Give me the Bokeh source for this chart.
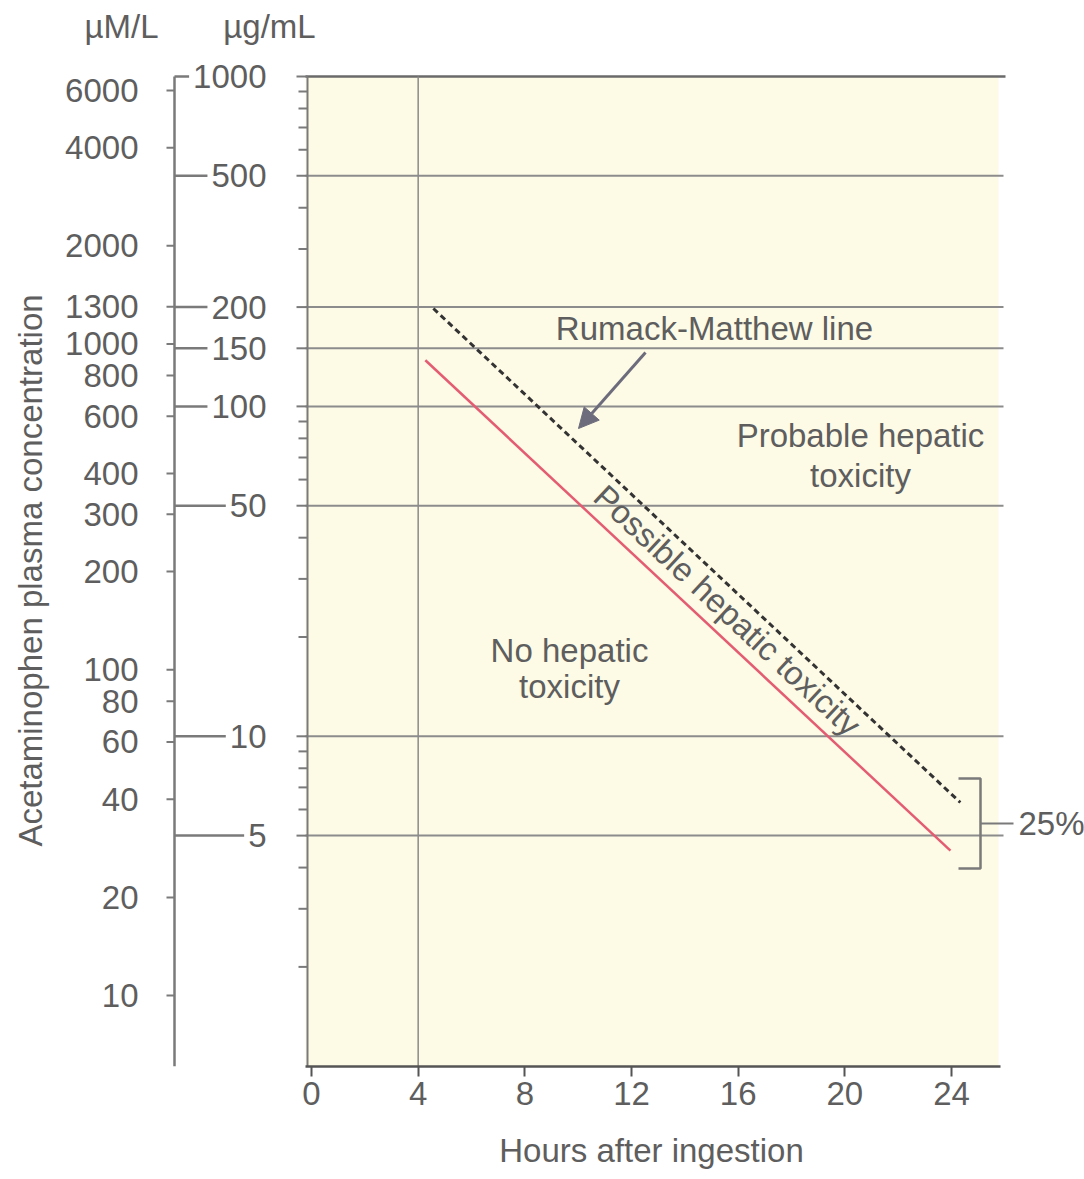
import math
from bokeh.plotting import figure
from bokeh.models import Range1d, LogScale, LinearAxis, FixedTicker, Arrow, NormalHead
from bokeh.core.properties import value
from bokeh.embed import file_html
from bokeh.resources import INLINE

# ---------------- data ----------------
hour_ticks = [0, 4, 8, 12, 16, 20, 24]
ug_ticks = [1000, 500, 200, 150, 100, 50, 10, 5]          # µg/mL scale labels
ug_grid = [500, 200, 150, 100, 50, 10, 5]                   # horizontal reference lines
ug_minor = [2, 3, 4, 6, 7, 8, 9, 20, 30, 40, 60, 70, 80, 90,
            300, 400, 600, 700, 800, 900]
um_ticks = [6000, 4000, 2000, 1300, 1000, 800, 600, 400, 300, 200,
            100, 80, 60, 40, 20, 10]                        # µM/L scale labels
rm_hours = [4.57, 24.33]        # Rumack-Matthew line (dashed)
rm_conc = [198, 6.3]
tx_hours = [4.27, 23.96]        # treatment line (25 % lower, red)
tx_conc = [138, 4.5]
start_hour = 4                  # vertical 4-hour line
area_top, area_bottom = 1000, 1

# ---------------- layout helpers (screen px -> data) ----------------
W, H = 1084, 1179
PX_H = 26.667          # px per hour
X0 = 311               # px of hour 0
def hx(px):
    return (px - X0) / PX_H
def vy(py):            # µg/mL scale: 1 at 1065.7 px, 329.9 px per decade
    return 10 ** ((1065.7 - py) / 329.9)
def vum(py):           # µM/L scale
    return 10 ** ((1320.8 - py) / 325.8)

FONT_NAME = "Liberation Sans"
FONT = value(FONT_NAME)
FS = "33px"
TXT = "#5e5e5e"

p = figure(width=W, height=H, x_range=Range1d(hx(0), hx(W)),
           y_range=Range1d(vy(H), vy(0)), y_axis_type="log",
           x_axis_location=None, y_axis_location=None,
           output_backend="svg", toolbar_location=None, min_border=0)
p.extra_y_ranges = {"um": Range1d(vum(H), vum(0))}
p.extra_y_scales = {"um": LogScale()}
p.outline_line_color = None
p.grid.grid_line_color = None
p.background_fill_color = "white"
p.border_fill_color = "white"

# plot area
p.quad(left=hx(305), right=hx(998), bottom=area_bottom, top=area_top,
       fill_color="#fdfae6", line_color=None)
# horizontal reference lines
p.segment(x0=hx(305), x1=hx(1003), y0=ug_grid, y1=ug_grid,
          line_color="#8c8c8c", line_width=2)
p.segment(x0=hx(305), x1=hx(1005), y0=[area_top], y1=[area_top],
          line_color="#6a6a6a", line_width=2.5)
# 4 hour line
p.segment(x0=[start_hour], x1=[start_hour], y0=area_bottom, y1=area_top,
          line_color="#8a8a8a", line_width=1.5)

# left edge of plot: axis line with major and minor ticks (no labels)
AXC = "#7a7a7a"
AX_X = hx(307)
p.segment(x0=[AX_X], x1=[AX_X], y0=[area_bottom], y1=[area_top],
          line_color=AXC, line_width=2)
p.segment(x0=AX_X - 11 / PX_H, x1=AX_X, y0=ug_ticks, y1=ug_ticks,
          line_color=AXC, line_width=2)
p.segment(x0=AX_X - 9 / PX_H, x1=AX_X, y0=ug_minor, y1=ug_minor,
          line_color=AXC, line_width=2)

# x axis
xax = LinearAxis(fixed_location=area_bottom, bounds=(hx(305), hx(1000)),
                 ticker=FixedTicker(ticks=hour_ticks, minor_ticks=[]),
                 major_tick_out=10, major_tick_in=0, minor_tick_out=0, minor_tick_in=0,
                 axis_line_color="#555555", axis_line_width=2.5,
                 major_tick_line_color="#555555", major_tick_line_width=2,
                 major_label_text_font=FONT_NAME, major_label_text_font_size=FS,
                 major_label_text_color=TXT, major_label_standoff=6)
p.add_layout(xax, "below")

# ---------------- left double scale ----------------
SX = hx(174)
SC = "#7a7a7a"
p.segment(x0=[SX], x1=[SX], y0=[area_bottom], y1=[area_top], line_color=SC, line_width=2.5)
# µM/L ticks & labels (left side)
p.segment(x0=SX - 8 / PX_H, x1=SX, y0=um_ticks, y1=um_ticks,
          line_color=SC, line_width=2, y_range_name="um")
p.text(x=[SX] * len(um_ticks), y=um_ticks, text=[str(v) for v in um_ticks],
       x_offset=-36, text_align="right", text_baseline="middle",
       text_font=FONT, text_font_size=FS, text_color=TXT, y_range_name="um")
# µg/mL ticks & labels (right side)
ug_labels = [str(v) for v in ug_ticks]
ug_tick_end = [SX + (92 - len(s) * 18.35 - 4) / PX_H for s in ug_labels]
p.segment(x0=[SX] * len(ug_ticks), x1=ug_tick_end, y0=ug_ticks, y1=ug_ticks,
          line_color=SC, line_width=2.5)
p.text(x=[SX] * len(ug_ticks), y=ug_ticks, text=ug_labels,
       x_offset=92, text_align="right", text_baseline="middle",
       text_font=FONT, text_font_size=FS, text_color=TXT)

# headers / axis titles
p.text(x=[hx(121), hx(269)], y=[vy(26), vy(26)], text=["µM/L", "µg/mL"],
       text_align="center", text_baseline="middle",
       text_font=FONT, text_font_size=FS, text_color=TXT)
p.text(x=[hx(30)], y=[vy(570)], text=["Acetaminophen plasma concentration"],
       angle=math.pi / 2, text_align="center", text_baseline="middle",
       text_font=FONT, text_font_size=FS, text_color=TXT)
p.text(x=[hx(651)], y=[vy(1150)], text=["Hours after ingestion"],
       text_align="center", text_baseline="middle",
       text_font=FONT, text_font_size=FS, text_color=TXT)

# ---------------- nomogram lines ----------------
p.line(tx_hours, tx_conc, line_color="#e35c72", line_width=2.5)
p.line(rm_hours, rm_conc, line_color="#333333", line_width=3, line_dash="6 4")

# arrow
AC = "#6c6c7c"
p.add_layout(Arrow(x_start=hx(645), y_start=vy(352), x_end=hx(578), y_end=vy(428),
                   line_color=AC, line_width=3,
                   end=NormalHead(size=20, fill_color=AC, line_color=AC)))

# region texts
p.text(x=[hx(714), hx(860), hx(860), hx(569), hx(569)],
       y=[vy(328), vy(435), vy(475), vy(650), vy(686)],
       text=["Rumack-Matthew line", "Probable hepatic", "toxicity", "No hepatic", "toxicity"],
       text_align="center", text_baseline="middle",
       text_font=FONT, text_font_size=FS, text_color=TXT)
p.text(x=[hx(727)], y=[vy(610)], text=["Possible hepatic toxicity"],
       angle=-math.radians(43), text_align="center", text_baseline="middle",
       text_font=FONT, text_font_size=FS, text_color=TXT)

# 25 % bracket
BC = "#7a7a7a"
p.line(x=[hx(958), hx(980), hx(980), hx(958)],
       y=[vy(778), vy(778), vy(868), vy(868)], line_color=BC, line_width=2.5)
p.segment(x0=[hx(980)], x1=[hx(1013)], y0=[vy(823)], y1=[vy(823)],
          line_color=BC, line_width=2)
p.text(x=[hx(1018)], y=[vy(823)], text=["25%"], text_align="left",
       text_baseline="middle", text_font=FONT, text_font_size=FS, text_color=TXT)

open("out.html", "w").write(file_html(p, INLINE))
